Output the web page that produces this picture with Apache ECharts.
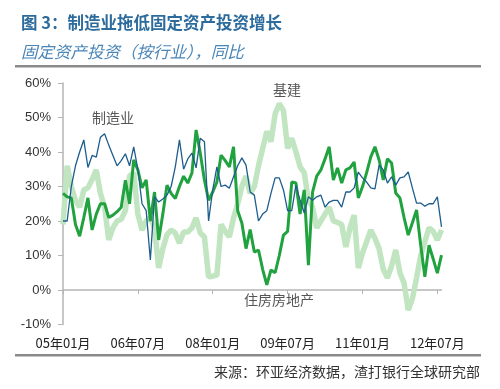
<!DOCTYPE html>
<html><head><meta charset="utf-8">
<script src="https://cdn.jsdelivr.net/npm/echarts@6/dist/echarts.min.js"></script>
<style>html,body{margin:0;padding:0;background:#fff}#c{width:500px;height:389px}</style>
</head><body><div id="c"></div>
<script>
// ---- data ----
const years = ['05','06','07','08','09','10','11','12'];
const months = ['01','02','03','04','05','06','07','08','09','10','11','12'];
const categories = [];
for (const y of years) for (const m of months) { if (categories.length < 92) categories.push(y + '年' + m + '月'); }

const manufacturing = [20,20,30,36,40,43.5,35.5,39,38.5,44.3,
 45.3,42,39,36,37.5,39.5,36,41.5,35,25,
 23,8.7,27,25.5,26.4,27.5,30,35.7,43.5,35,
 38,39.7,35.4,44,43,20,29,35.7,30,30.4,
 29.5,32.8,36,38.3,36.2,28.4,27.5,20,22,23,
 28,32.5,32.5,29,23,23,30.4,26,22.3,27,
 26,27,27.5,24,25.5,26,26,24,28.4,28.4,
 29.6,34.2,32.5,31.3,29.6,29.3,36.2,34.8,31,32.8,
 30.4,32.5,32.8,34.2,29.6,25.2,25.2,24.3,25,25,
 27,18.3];
const realEstate = [28,27,26.7,19,15.6,21,26.7,17.4,22,25,
 25,21,21.7,22.7,24,31.8,25,37.7,34.8,29.6,
 31.9,20,28.4,14.5,22,30.4,28,26.5,30,33,
 31,33.9,46.4,39.7,31.9,26,28.4,31.3,39.1,37.5,
 35.7,41.5,23,19.4,12,17.5,11,11.6,6,1.5,
 5.8,5,10,15.9,17,31.3,31,22,29,7.2,
 28.4,33,34.8,38,41.5,31.9,35.4,31,34.8,35.4,
 37.1,26.7,29.9,34,38.6,41.5,37.7,31.9,38,36.8,
 28.1,26.7,21,15.9,19.5,23.2,13,3.8,13,9,
 4.9,10.1];
const infrastructure = [19,36,30,26,24,29,29.6,32,34.8,28,
 24,14.5,18,20,20.5,23,33,34,22,17.4,
 20,21,18,6.4,12,16,17.4,16.5,13.6,16.8,
 16.8,18,20.9,16.5,15.4,3.8,4,4.3,19,17,
 15.4,20.9,25,30,33,28,30,36,41,46,
 43,51,54,52,41,44,40,35.7,34,26,
 24,18,20,22,24,20,19.6,19,12.5,18,
 21.7,6.4,10.7,14,17.4,15,12,6,3.5,7,
 11.6,5,2,-5.8,-2.5,3.5,10,14,18,17,
 14.5,17.4];
const yTicks = {min: -10, max: 60, step: 10};
const titleText = '图 3：制造业拖低固定资产投资增长';
const subtitleText = '固定资产投资（按行业），同比';
const sourceText = '来源：环亚经济数据，渣打银行全球研究部';
const seriesNames = ['基建', '住房房地产', '制造业'];

const cjk = '"Noto Sans CJK SC", "Liberation Sans", sans-serif';
const chart = echarts.init(document.getElementById('c'), null, {renderer: 'canvas'});
chart.setOption({
  animation: false,
  title: [
    {text: titleText, left: 16, top: 9, textStyle: {fontFamily: cjk, fontSize: 16.5, fontWeight: 'bold', color: '#2c6b9c'}},
    {text: subtitleText, left: 16, top: 38, textStyle: {fontFamily: cjk, fontSize: 16.5, fontWeight: 'normal', fontStyle: 'italic', color: '#4a86b8'}}
  ],
  grid: {left: 63, right: 58.5, top: 83, bottom: 64.5},
  xAxis: {
    type: 'category', data: categories, boundaryGap: false,
    axisLine: {onZero: true, lineStyle: {color: '#b5b5b5', width: 1.5}},
    axisTick: {show: true, interval: 17, length: 4, inside: false, lineStyle: {color: '#b5b5b5'}},
    axisLabel: {interval: 17, margin: 12, fontSize: 13, color: '#222', fontFamily: cjk},
    splitLine: {show: false}
  },
  yAxis: {
    type: 'value', min: yTicks.min, max: yTicks.max, interval: yTicks.step,
    axisLine: {show: true, lineStyle: {color: '#b5b5b5', width: 1.5}},
    axisTick: {show: true, length: 5, lineStyle: {color: '#b5b5b5'}},
    axisLabel: {formatter: '{value}%', fontSize: 13, color: '#333', margin: 12, fontFamily: '"Liberation Sans", Arial, sans-serif'},
    splitLine: {show: false}
  },
  series: [
    {name: seriesNames[0], type: 'line', data: infrastructure, symbol: 'none', lineStyle: {color: '#c0e5c0', width: 5.5}, z: 1},
    {name: seriesNames[1], type: 'line', data: realEstate, symbol: 'none', lineStyle: {color: '#20a23f', width: 3}, z: 2},
    {name: seriesNames[2], type: 'line', data: manufacturing, symbol: 'none', lineStyle: {color: '#1d5d8e', width: 1.3}, z: 3}
  ],
  graphic: [
    {type: 'rect', shape: {x: 15, y: 65, width: 466, height: 2.5}, style: {fill: '#8a8a8a'}},
    {type: 'rect', shape: {x: 15, y: 354, width: 466, height: 2.5}, style: {fill: '#8a8a8a'}},
    {type: 'text', x: 480, y: 372, style: {text: sourceText, fontFamily: cjk, fontSize: 14, fill: '#333', textAlign: 'right', textVerticalAlign: 'middle'}},
    {type: 'text', x: 113, y: 118, style: {text: seriesNames[2], fontFamily: cjk, fontSize: 14, fill: '#555', textAlign: 'center', textVerticalAlign: 'middle'}},
    {type: 'text', x: 287, y: 90, style: {text: seriesNames[0], fontFamily: cjk, fontSize: 14, fill: '#555', textAlign: 'center', textVerticalAlign: 'middle'}},
    {type: 'text', x: 279, y: 300, style: {text: seriesNames[1], fontFamily: cjk, fontSize: 14, fill: '#555', textAlign: 'center', textVerticalAlign: 'middle'}}
  ]
});
</script></body></html>
